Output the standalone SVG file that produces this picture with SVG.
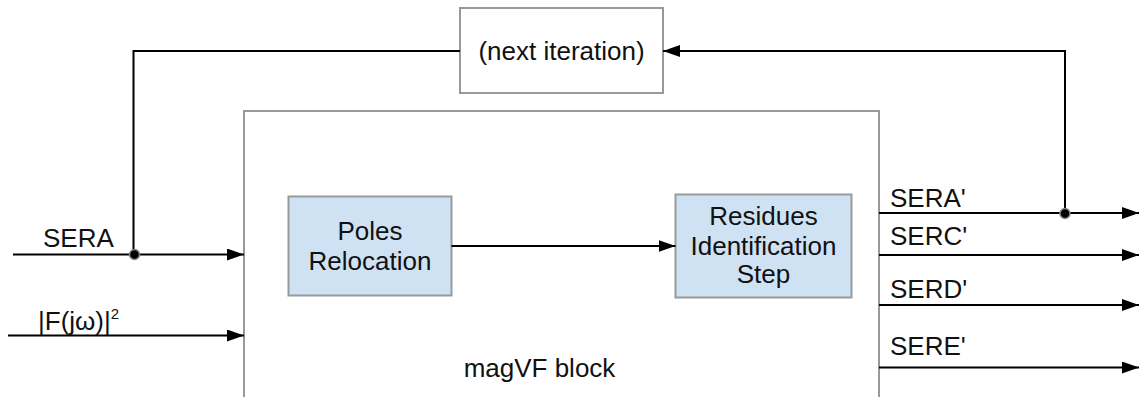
<svg xmlns="http://www.w3.org/2000/svg" width="1140" height="397" viewBox="0 0 1140 397">
  <style>
    text { font-family: "Liberation Sans", Arial, sans-serif; font-size: 26px; fill: #111; }
    .mid { text-anchor: middle; }
    .box { fill: #ffffff; stroke: #999999; stroke-width: 2; }
    .step { fill: #cfe2f3; stroke: #999999; stroke-width: 2; }
    .wire { fill: none; stroke: #000000; stroke-width: 2; }
    .dot { fill: #000000; stroke: #888888; stroke-width: 1.5; }
  </style>
  <defs>
    <marker id="arrow" markerUnits="userSpaceOnUse" markerWidth="17" markerHeight="12" refX="17" refY="6" orient="auto">
      <path d="M0,0 L17,6 L0,12 Z" fill="#000000"/>
    </marker>
  </defs>

  <!-- outer processing block -->
  <g id="magvf">
    <rect class="box" x="244" y="111" width="635" height="320"/>
    <text x="539.5" y="377" class="mid">magVF block</text>
  </g>

  <g id="next-iteration">
    <rect class="box" x="460" y="8" width="203" height="85"/>
    <text x="561.5" y="60" class="mid">(next iteration)</text>
  </g>

  <g id="poles-relocation">
    <rect class="step" x="288.5" y="196.5" width="163" height="99"/>
    <text x="370" y="240" class="mid">Poles</text>
    <text x="370" y="270" class="mid">Relocation</text>
  </g>

  <g id="residues-identification">
    <rect class="step" x="675.5" y="194.5" width="176" height="103"/>
    <text x="763.5" y="225" class="mid">Residues</text>
    <text x="763.5" y="254.5" class="mid">Identification</text>
    <text x="763.5" y="283" class="mid">Step</text>
  </g>

  <g id="connectors">
    <!-- inputs -->
    <line class="wire" x1="13" y1="254.5" x2="244" y2="254.5" marker-end="url(#arrow)"/>
    <line class="wire" x1="8" y1="335.5" x2="244" y2="335.5" marker-end="url(#arrow)"/>
    <!-- internal step -->
    <line class="wire" x1="451.5" y1="246" x2="675.5" y2="246" marker-end="url(#arrow)"/>
    <!-- outputs -->
    <line class="wire" x1="879" y1="213" x2="1139" y2="213" marker-end="url(#arrow)"/>
    <line class="wire" x1="879" y1="255" x2="1139" y2="255" marker-end="url(#arrow)"/>
    <line class="wire" x1="879" y1="305" x2="1139" y2="305" marker-end="url(#arrow)"/>
    <line class="wire" x1="879" y1="367.5" x2="1139" y2="367.5" marker-end="url(#arrow)"/>
    <!-- feedback loop -->
    <polyline class="wire" points="1065,213 1065,51 663,51" marker-end="url(#arrow)"/>
    <polyline class="wire" points="460,51 133.5,51 133.5,254.5"/>
    <circle class="dot" cx="134.5" cy="254.5" r="5"/>
    <circle class="dot" cx="1065" cy="213.5" r="5"/>
    <!-- signal labels -->
    <text x="43" y="246.5">SERA</text>
    <text x="38" y="330">|F(jω)|<tspan font-size="15" dy="-11">2</tspan></text>
    <text x="890" y="206.5">SERA'</text>
    <text x="890" y="245">SERC'</text>
    <text x="890" y="298">SERD'</text>
    <text x="890" y="355">SERE'</text>
  </g>
</svg>
